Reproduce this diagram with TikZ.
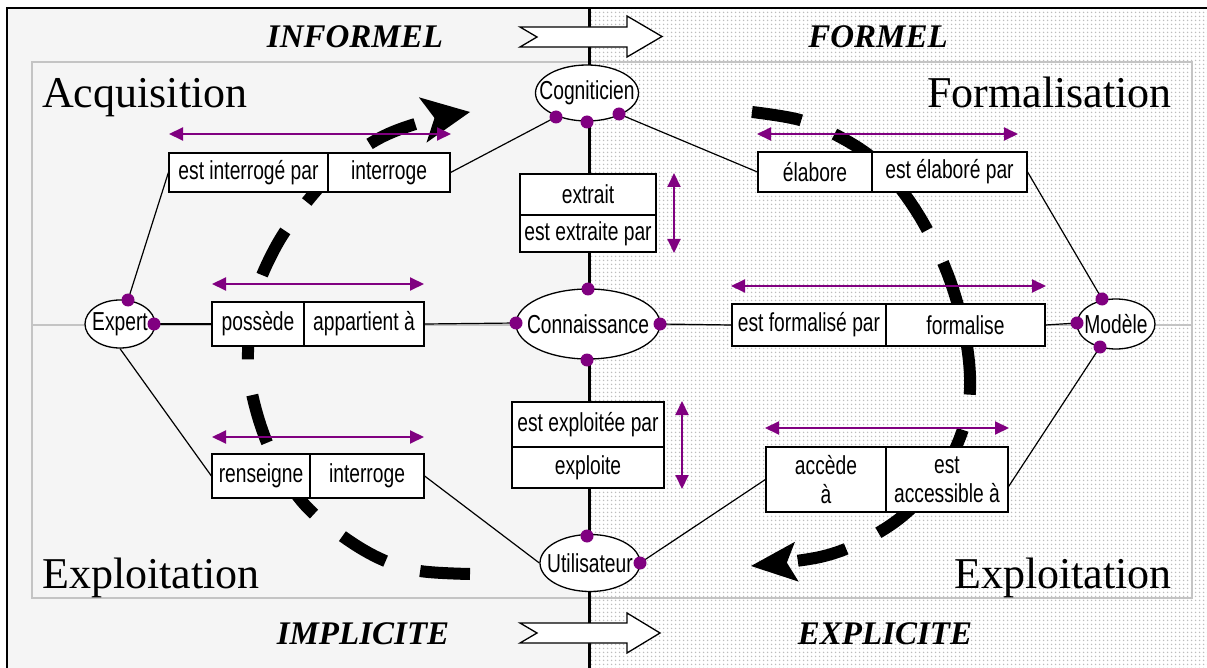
\documentclass[tikz,border=0pt]{standalone}
\usepackage{fontspec}
\setmainfont{Liberation Serif}
\newfontfamily\narrowsans[FakeStretch=0.74]{Liberation Sans}
\usetikzlibrary{shapes.geometric,arrows.meta,patterns.meta}

\definecolor{relpurple}{HTML}{800080}
\definecolor{panelgray}{HTML}{F5F5F5}
\definecolor{framegray}{HTML}{C4C4C4}
\definecolor{dotgray}{HTML}{BDBDBD}

% fine dot screen for the formal half
\tikzdeclarepattern{
  name=finedots,
  type=uncolored,
  bounding box={(-2pt,-2pt) and (2pt,2pt)},
  tile size={(4pt,4pt)},
  code={\pgfpathcircle{\pgfpointorigin}{0.95pt}\pgfusepath{fill}}
}

\begin{document}
\begin{tikzpicture}[x=1pt,y=-1pt,
  cell/.style={draw, fill=white, line width=1.2pt, inner sep=0pt, align=center,
    font=\narrowsans\fontsize{26pt}{29pt}\selectfont},
  entity/.style={ellipse, draw, fill=white, line width=1.3pt, inner sep=0pt},
  enttext/.style={inner sep=0pt, font=\narrowsans\fontsize{26pt}{29pt}\selectfont},
  pin/.style={circle, fill=relpurple, minimum size=13pt, inner sep=0pt},
  link/.style={line width=1.2pt},
  relarrow/.style={relpurple, line width=2pt,
    {Triangle[length=14pt,width=13pt]}-{Triangle[length=14pt,width=13pt]}},
  cycleflow/.style={line width=12pt, dash pattern=on 50pt off 36pt},
  phase/.style={inner sep=0pt, font=\fontsize{44pt}{44pt}\selectfont},
  axis/.style={inner sep=0pt, font=\bfseries\itshape\fontsize{33pt}{33pt}\selectfont},
  blockarrow/.style={draw, fill=white, line width=1.3pt, line join=miter}
]
\useasboundingbox (0,0) rectangle (1207,668);

% halves: informal (plain) and formal (dotted)
\fill[white] (0,0) rectangle (1207,668);
\fill[panelgray] (7,8) rectangle (589.5,668);
\fill[pattern=finedots, pattern color=dotgray] (589.5,8) rectangle (1207,668);
\draw[line width=2pt] (7,668) -- (7,8) -- (1207,8);

% quadrant frame
\draw[framegray, line width=2pt] (32,62) rectangle (1192,598);
\draw[framegray, line width=2pt] (32,325) -- (1192,325);

% central divider
\draw[line width=3pt] (589.5,8) -- (589.5,668);

% informal -> formal block arrows
\draw[blockarrow] (520,27) -- (627,27) -- (627,16) -- (662,36.5) -- (627,57)
  -- (627,47) -- (520,47) -- (537,37) -- cycle;
\draw[blockarrow] (520,623) -- (627,623) -- (627,613) -- (660,633) -- (627,653)
  -- (627,643) -- (520,643) -- (537,633) -- cycle;

% knowledge cycle
\draw[cycleflow, -{Stealth[length=48pt,width=46pt,inset=12pt,line width=0pt]}]
  plot[smooth, tension=0.6] coordinates {
    (470,574) (420,571) (383,560) (345,538) (305,505) (275,460) (256,410)
    (248,360) (254,300) (274,250) (302,208) (338,168) (378,139) (422,122) (470,112)};
\draw[cycleflow, -{Stealth[length=46pt,width=40pt,inset=10pt,line width=0pt]}]
  plot[smooth, tension=0.6] coordinates {
    (752,112) (800,120) (840,137) (876,161) (906,196) (931,237) (952,286)
    (966,340) (970,390) (962,432) (940,476) (905,514) (865,540) (820,557) (751,566)};

% actors and artefacts
\node[entity, minimum width=103pt, minimum height=56pt] (cog) at (587,93) {};
\node[enttext] at (cog.center) {Cogniticien};
\node[entity, minimum width=70pt, minimum height=48pt] (exp) at (120,324) {};
\node[enttext] at (exp.center) {Expert};
\node[entity, minimum width=144pt, minimum height=70pt] (conn) at (588,324) {};
\node[enttext] at (conn.center) {Connaissance};
\node[entity, minimum width=78pt, minimum height=50pt] (mod) at (1116,324) {};
\node[enttext] at (mod.center) {Modèle};
\node[entity, minimum width=100pt, minimum height=57pt] (ut) at (590,563) {};
\node[enttext] at (ut.center) {Utilisateur};

% relation boxes
\node[cell, minimum width=159pt, minimum height=39pt] (b1l) at (248.5,172.5) {est interrogé par};
\node[cell, minimum width=122pt, minimum height=39pt] (b1r) at (389,172.5) {interroge};
\node[cell, minimum width=92pt, minimum height=44pt] (b2l) at (258,324) {possède};
\node[cell, minimum width=120pt, minimum height=44pt] (b2r) at (364,324) {appartient à};
\node[cell, minimum width=98pt, minimum height=44pt] (b3l) at (261,476) {renseigne};
\node[cell, minimum width=114pt, minimum height=44pt] (b3r) at (367,476) {interroge};
\node[cell, minimum width=136pt, minimum height=41pt] (b4t) at (588,194.5) {extrait};
\node[cell, minimum width=136pt, minimum height=37pt] (b4b) at (588,233.5) {est extraite par};
\node[cell, minimum width=152pt, minimum height=45pt] (b5t) at (588,424.5) {est exploitée par};
\node[cell, minimum width=152pt, minimum height=41pt] (b5b) at (588,467.5) {exploite};
\node[cell, minimum width=114pt, minimum height=40pt] (b6l) at (815,172) {élabore};
\node[cell, minimum width=155pt, minimum height=40pt] (b6r) at (949.5,172) {est élaboré par};
\node[cell, minimum width=154pt, minimum height=42pt] (b7l) at (809,325) {est formalisé par};
\node[cell, minimum width=159pt, minimum height=42pt] (b7r) at (965.5,325) {formalise};
\node[cell, minimum width=120pt, minimum height=65pt] (b8l) at (826,479.5) {accède\\à};
\node[cell, minimum width=122pt, minimum height=65pt] (b8r) at (947,479.5) {est\\accessible à};

% attachment points on the ellipses
\coordinate (cogA) at (556,117);
\coordinate (cogB) at (587,122);
\coordinate (cogC) at (619,114);
\coordinate (expT) at (128,300);
\coordinate (expR) at (154,324);
\coordinate (connL) at (516,323);
\coordinate (connR) at (660,324);
\coordinate (connT) at (588,289);
\coordinate (connB) at (587,360);
\coordinate (modT) at (1102,299);
\coordinate (modL) at (1077,323);
\coordinate (modB) at (1100,347);
\coordinate (utT) at (587,536);
\coordinate (utR) at (640,563);

% links
\draw[link] (expT) -- (b1l.west);
\draw[link] (b1r.east) -- (cogA);
\draw[link] (expR) -- (b2l.west);
\draw[link] (b2r.east) -- (connL);
\draw[link] (exp.south) -- (b3l.west);
\draw[link] (b3r.east) -- (ut.west);
\draw[link] (cogC) -- (b6l.west);
\draw[link] (b6r.east) -- (modT);
\draw[link] (connR) -- (b7l.west);
\draw[link] (b7r.east) -- (modL);
\draw[link] (modB) -- ([yshift=-7pt]b8r.east);
\draw[link] (b8l.west) -- (utR);

\foreach \p in {cogA,cogB,cogC,expT,expR,connL,connR,connT,connB,modT,modL,modB,utT,utR}
  \node[pin] at (\p) {};

% reading directions of the relations
\coordinate (r1a) at (169,134);  \coordinate (r1b) at (451,134);
\coordinate (r2a) at (212,284);  \coordinate (r2b) at (424,284);
\coordinate (r3a) at (212,437);  \coordinate (r3b) at (424,437);
\coordinate (r4a) at (674,173);  \coordinate (r4b) at (674,253);
\coordinate (r5a) at (682,401);  \coordinate (r5b) at (682,489);
\coordinate (r6a) at (757,134);  \coordinate (r6b) at (1018,134);
\coordinate (r7a) at (731,286);  \coordinate (r7b) at (1046,286);
\coordinate (r8a) at (765,428);  \coordinate (r8b) at (1009,428);
\foreach \i in {1,...,8}
  \draw[relarrow] (r\i a) -- (r\i b);

% phase names
\node[phase, anchor=base west] at (42,108) {Acquisition};
\node[phase, anchor=base east] at (1172,108) {Formalisation};
\node[phase, anchor=base west] at (42,588) {Exploitation};
\node[phase, anchor=base east] at (1172,588) {Exploitation};

% axes
\node[axis, anchor=base] at (355,48) {INFORMEL};
\node[axis, anchor=base] at (878,48) {FORMEL};
\node[axis, anchor=base] at (363,644) {IMPLICITE};
\node[axis, anchor=base] at (885,644) {EXPLICITE};
\end{tikzpicture}
\end{document}
